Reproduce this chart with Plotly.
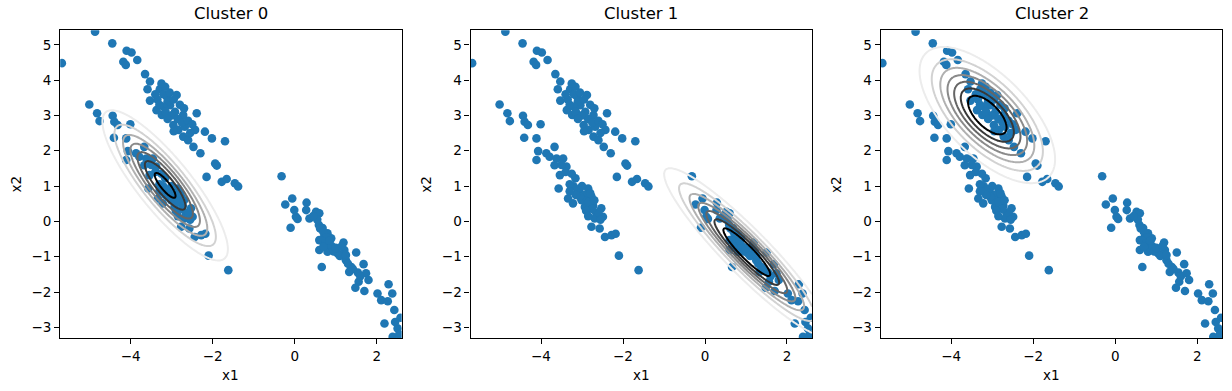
import numpy as np
import plotly.graph_objects as go

# ---- data ----
c0_x = [-5.01, -4.82, -4.76, -4.44, -4.40, -4.32, -4.01, -4.41, -4.11, -4.07, -4.11, -3.87, -3.79, -3.67,
        -3.62, -3.67, -3.46, -3.38, -3.54, -3.57, -3.16, -3.20, -3.34, -3.22, -3.06, -2.93, -3.01, -2.85,
        -2.77, -2.93, -2.73, -2.53, -2.65, -2.49, -2.69, -2.77, -2.57, -2.44, -2.28, -2.18, -2.10, -1.62,
        -3.10, -3.00, -2.95, -2.85, -3.05, -2.80, -2.70, -3.15, -2.60, -2.75, -3.30, -2.90, -2.55, -3.40,
        -3.25, -3.50, -3.30, -2.85]
c0_y = [3.31, 3.06, 2.84, 2.99, 2.82, 2.73, 2.75, 2.37, 2.35, 1.99, 1.74, 1.93, 1.83, 2.11,
        1.78, 1.59, 1.78, 1.55, 1.31, 0.93, 1.22, 0.99, 0.65, 0.51, 0.84, 0.75, 0.60, 0.93,
        0.70, 0.41, 0.44, 0.37, 0.23, 0.13, 0.08, -0.15, -0.20, -0.44, -0.39, -0.35, -0.97, -1.38,
        0.90, 1.00, 0.60, 0.55, 0.70, 0.80, 0.60, 0.75, 0.25, 0.35, 1.05, 0.30, 0.05, 1.40,
        1.35, 1.60, 0.85, 0.15]

c1_x = [-0.32, -0.06, -0.23, -0.01, 0.03, 0.07, -0.10, 0.29, 0.28, 0.36, 0.52, 0.60, 0.59, 0.68,
        0.80, 0.72, 0.60, 0.89, 0.85, 0.60, 0.80, 1.05, 1.19, 1.21, 1.50, 1.25, 0.66, 1.38,
        1.33, 1.68, 1.54, 1.74, 1.80, 1.56, 1.48, 1.70, 2.02, 2.11, 2.29, 2.38, 2.27, 2.43,
        2.58, 2.19, 2.51, 2.39, 2.55,
        0.62, 0.70, 0.78, 0.66, 0.75, 0.90, 0.70, 0.95, 1.10, 1.30, 1.42, 1.60, 0.55, 0.45,
        0.85, 1.00, 1.25, 1.15, 2.45]
c1_y = [1.28, 0.65, 0.48, 0.32, 0.13, 0.07, -0.18, 0.53, 0.32, 0.08, 0.27, 0.23, -0.10, -0.19,
        -0.34, -0.43, -0.53, -0.48, -0.67, -0.81, -0.86, -0.91, -0.60, -0.81, -0.88, -1.10, -1.29, -1.29,
        -1.43, -1.21, -1.45, -1.47, -1.66, -1.71, -1.88, -1.97, -2.04, -2.23, -1.78, -2.04, -2.26, -2.51,
        -2.73, -2.89, -3.03, -3.27, -3.20,
        -0.20, -0.30, -0.45, -0.55, -0.62, -0.70, -0.72, -0.85, -0.98, -1.20, -1.35, -1.55, 0.05, 0.15,
        -0.55, -0.75, -0.95, -0.70, -2.85]

c2_x = [-4.87, -5.68, -4.45, -4.10, -3.98, -3.84, -4.18, -4.12, -3.65, -3.53, -3.59, -3.29, -3.16, -3.53,
        -3.37, -3.24, -3.12, -2.88, -3.04, -2.92, -2.72, -2.39, -2.96, -2.84, -2.68, -2.43, -2.72, -2.60,
        -2.47, -2.19, -2.02, -2.30, -1.70, -1.94, -1.90, -2.15, -1.78, -1.66, -1.46, -1.38,
        -3.20, -3.05, -3.35, -3.10, -2.95, -3.20, -3.30, -2.80, -3.15, -3.00, -2.85, -3.10, -2.75, -2.60,
        -2.95, -2.55, -3.40, -3.25, -2.70, -2.50]
c2_y = [5.37, 4.48, 5.04, 4.83, 4.78, 4.57, 4.52, 4.43, 4.17, 3.96, 3.74, 3.74, 3.81, 3.42,
        3.15, 3.01, 3.53, 3.58, 3.29, 3.10, 3.01, 3.06, 2.73, 2.59, 2.68, 2.59, 2.40, 2.30,
        2.11, 2.54, 2.35, 1.93, 2.27, 1.64, 1.58, 1.26, 1.12, 1.20, 1.08, 0.99,
        3.60, 3.65, 3.45, 3.40, 3.45, 3.25, 3.30, 3.30, 3.10, 3.00, 2.90, 2.90, 2.80, 2.85,
        2.55, 2.50, 3.60, 3.90, 3.20, 2.75]

x1_vals = c0_x + c1_x + c2_x
x2_vals = c0_y + c1_y + c2_y

# fitted Gaussian components
titles = ["Cluster 0", "Cluster 1", "Cluster 2"]
means = [[-3.16, 1.02], [1.02, -0.87], [-3.12, 3.01]]
covs = [[[0.585, -0.69], [-0.69, 1.13]],
        [[0.96, -1.05], [-1.05, 1.334]],
        [[0.645, -0.487], [-0.487, 0.878]]]
top_level_frac = [0.946, 0.843, 0.843]
n_levels = 7
level_colors = ["#ececec", "#d2d2d2", "#b0b0b0", "#8a8a8a", "#656565", "#383838", "#000000"]

x_range = [-5.72, 2.61]
y_range = [-3.31, 5.41]
x_ticks = [-4, -2, 0, 2]
y_ticks = [-3, -2, -1, 0, 1, 2, 3, 4, 5]

W, H = 1232, 391
panel_px = [(60.2, 401.7), (470.5, 812.0), (880.7, 1222.3)]
top_px, bot_px = 30.3, 338.3

gx = np.linspace(x_range[0], x_range[1], 320)
gy = np.linspace(y_range[0], y_range[1], 320)
GX, GY = np.meshgrid(gx, gy)

fig = go.Figure()
font = dict(family="DejaVu Sans", size=13.5, color="black")
layout = dict(width=W, height=H, margin=dict(l=0, r=0, t=0, b=0),
              paper_bgcolor="white", plot_bgcolor="white", showlegend=False,
              font=font)
annotations = []
ydom = [1 - bot_px / H, 1 - top_px / H]

for i in range(3):
    xa = "x" if i == 0 else f"x{i+1}"
    ya = "y" if i == 0 else f"y{i+1}"
    ox, oy = f"x{i+4}", f"y{i+4}"
    dom = [panel_px[i][0] / W, panel_px[i][1] / W]
    axkey_x = "xaxis" if i == 0 else f"xaxis{i+1}"
    axkey_y = "yaxis" if i == 0 else f"yaxis{i+1}"
    common = dict(showgrid=False, zeroline=False, showline=True, mirror=True,
                  linecolor="black", linewidth=1.1, ticks="outside", ticklen=5,
                  tickwidth=1.1, tickcolor="black", tickfont=font)
    layout[axkey_x] = dict(domain=dom, range=x_range, tickvals=x_ticks, anchor=ya, **common)
    layout[axkey_y] = dict(domain=ydom, range=y_range, tickvals=y_ticks, anchor=xa, **common)
    layout[f"xaxis{i+4}"] = dict(overlaying=xa, range=x_range, visible=False, anchor=oy)
    layout[f"yaxis{i+4}"] = dict(overlaying=ya, range=y_range, visible=False, anchor=ox)

    fig.add_trace(go.Scatter(x=x1_vals, y=x2_vals, mode="markers", xaxis=xa, yaxis=ya,
                             marker=dict(size=8.6, color="#1f77b4", line=dict(width=0)),
                             hoverinfo="skip"))

    mu = np.array(means[i])
    inv = np.linalg.inv(np.array(covs[i]))
    dx, dy = GX - mu[0], GY - mu[1]
    md = inv[0, 0] * dx * dx + 2 * inv[0, 1] * dx * dy + inv[1, 1] * dy * dy
    Z = np.exp(-0.5 * md)
    d = top_level_frac[i] / n_levels
    for j in range(n_levels):
        lev = (j + 1) * d
        fig.add_trace(go.Contour(x=gx, y=gy, z=Z, xaxis=ox, yaxis=oy,
                                 contours=dict(coloring="none", start=lev, end=lev, size=d),
                                 line=dict(width=2, color=level_colors[j]),
                                 showscale=False, hoverinfo="skip"))

    cx = (panel_px[i][0] + panel_px[i][1]) / 2 / W
    annotations.append(dict(text=titles[i], x=cx, y=1 - 13 / H, xref="paper", yref="paper",
                            xanchor="center", yanchor="middle", showarrow=False,
                            font=dict(family="DejaVu Sans", size=16.5, color="black")))
    annotations.append(dict(text="x1", x=cx, y=1 - 375 / H, xref="paper", yref="paper",
                            xanchor="center", yanchor="middle", showarrow=False, font=font))
    annotations.append(dict(text="x2", x=(panel_px[i][0] - 44) / W, y=1 - (top_px + bot_px) / 2 / H,
                            xref="paper", yref="paper", xanchor="center", yanchor="middle",
                            textangle=-90, showarrow=False, font=font))

layout["annotations"] = annotations
fig.update_layout(**layout)
fig.write_html("out.html", config={"displayModeBar": False},
               post_script="document.body.style.margin='0px';")
